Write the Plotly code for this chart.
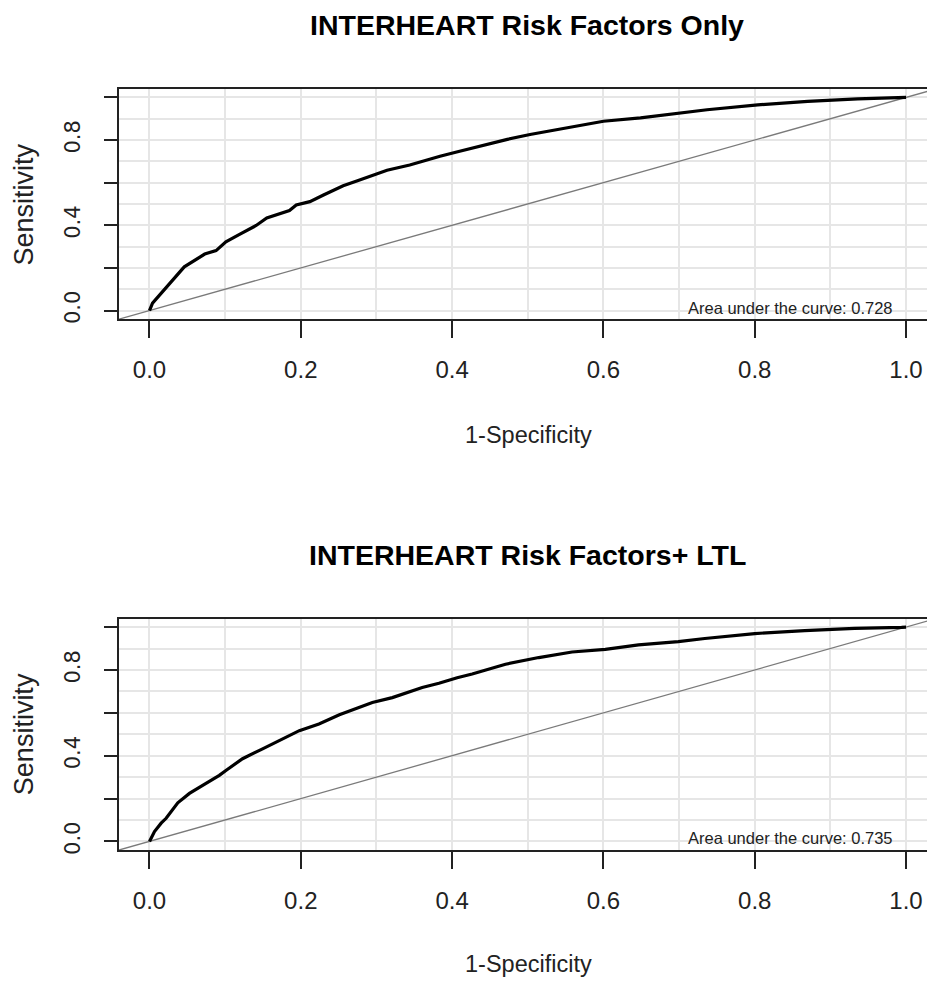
import plotly.graph_objects as go

# ---------------- data ----------------
titles = ["INTERHEART Risk Factors Only", "INTERHEART Risk Factors+ LTL"]
auc_values = [0.728, 0.735]

top_fpr = [0, 0.004, 0.046, 0.057, 0.073, 0.088, 0.101, 0.119, 0.141, 0.155, 0.185, 0.194,
           0.212, 0.230, 0.256, 0.274, 0.300, 0.314, 0.344, 0.367, 0.384, 0.406, 0.428,
           0.473, 0.503, 0.561, 0.600, 0.649, 0.702, 0.737, 0.804, 0.870, 0.936, 0.975, 1.0]
top_tpr = [0, 0.035, 0.205, 0.229, 0.265, 0.281, 0.322, 0.357, 0.399, 0.434, 0.469, 0.495,
           0.511, 0.542, 0.585, 0.608, 0.639, 0.658, 0.683, 0.708, 0.724, 0.744, 0.764,
           0.803, 0.826, 0.865, 0.888, 0.904, 0.927, 0.942, 0.965, 0.981, 0.993, 0.998, 1.0]

bot_fpr = [0, 0.0066, 0.0154, 0.022, 0.0374, 0.0528, 0.0703, 0.0923, 0.101, 0.123, 0.1495,
           0.1715, 0.198, 0.224, 0.251, 0.2946, 0.321, 0.3605, 0.3826, 0.4067, 0.4265, 0.4706,
           0.5145, 0.5585, 0.6025, 0.6464, 0.699, 0.734, 0.800, 0.866, 0.932, 0.994, 1.0]
bot_tpr = [0, 0.046, 0.085, 0.108, 0.180, 0.224, 0.262, 0.308, 0.331, 0.386, 0.432,
           0.470, 0.517, 0.548, 0.591, 0.648, 0.671, 0.718, 0.738, 0.764, 0.781, 0.827,
           0.858, 0.884, 0.896, 0.917, 0.932, 0.947, 0.970, 0.984, 0.994, 0.999, 1.0]

diag_line = [-0.1, 1.1]

x_tickvals = [0, 0.2, 0.4, 0.6, 0.8, 1.0]
x_ticktext = ["0.0", "0.2", "0.4", "0.6", "0.8", "1.0"]
y_tickvals = [0, 0.2, 0.4, 0.6, 0.8, 1.0]
y_ticktext = ["0.0", "", "0.4", "", "0.8", ""]

# ---------------- styling ----------------
W, H = 927, 988
REG = "Liberation Sans, Arial, sans-serif"
WIDE = "DejaVu Sans, Verdana, sans-serif"
GRID = "#e6e6e6"
AX = "#222222"

fig = go.Figure()

curves = [(top_fpr, top_tpr), (bot_fpr, bot_tpr)]
for i, (fx, ty) in enumerate(curves):
    xa = "x" if i == 0 else "x2"
    ya = "y" if i == 0 else "y2"
    fig.add_trace(go.Scatter(x=diag_line, y=diag_line, mode="lines",
                             line=dict(color="#7a7a7a", width=1.3),
                             xaxis=xa, yaxis=ya, showlegend=False, hoverinfo="skip"))
    fig.add_trace(go.Scatter(x=fx, y=ty, mode="lines",
                             line=dict(color="black", width=3.2),
                             xaxis=xa, yaxis=ya, showlegend=False))

x_dom = [119 / W, 1.0]
x_range = [-0.0403, 1.0277]
y_doms = [[1 - 320.7 / H, 1 - 89.3 / H], [1 - 854.3 / H, 1 - 621.7 / H]]
y_ranges = [[-0.04, 1.04], [-0.04, 1.04]]


def xaxis_cfg(anchor):
    return dict(domain=x_dom, range=x_range, anchor=anchor,
                tickmode="array", tickvals=x_tickvals, ticktext=x_ticktext,
                ticks="outside", ticklen=17, tickwidth=1.5, tickcolor=AX,
                ticklabelstandoff=11,
                tickfont=dict(family=REG, size=24, color=AX),
                showline=True, linecolor=AX, linewidth=1.5, mirror=True,
                showgrid=True, gridcolor=GRID, gridwidth=1.5,
                minor=dict(dtick=0.1, tick0=0, showgrid=True, gridcolor=GRID, gridwidth=1.5, ticks=""),
                zeroline=False, fixedrange=True)


def yaxis_cfg(anchor, dom, rng):
    return dict(domain=dom, range=rng, anchor=anchor,
                tickmode="array", tickvals=y_tickvals, ticktext=y_ticktext,
                ticks="outside", ticklen=13, tickwidth=1.5, tickcolor=AX,
                tickangle=-90, ticklabelstandoff=16,
                tickfont=dict(family=WIDE, size=21, color=AX),
                showline=True, linecolor=AX, linewidth=1.5, mirror=False,
                showgrid=True, gridcolor=GRID, gridwidth=1.5,
                minor=dict(dtick=0.1, tick0=0, showgrid=True, gridcolor=GRID, gridwidth=1.5, ticks=""),
                zeroline=False, fixedrange=True)


annotations = []
offsets = [0, 532.4]
for i in range(2):
    off = offsets[i]
    annotations.append(dict(text="<b>%s</b>" % titles[i], xref="paper", yref="paper",
                            x=527 / W, y=1 - (25 + off) / H, xanchor="center", yanchor="middle",
                            showarrow=False, font=dict(family=REG, size=28.5, color="black")))
    annotations.append(dict(text="1-Specificity", xref="paper", yref="paper",
                            x=528 / W, y=1 - (437 + off) / H, xanchor="center", yanchor="middle",
                            showarrow=False, font=dict(family=REG, size=23.5, color=AX)))
    annotations.append(dict(text="Sensitivity", xref="paper", yref="paper",
                            x=23.5 / W, y=1 - (206 + off) / H, xanchor="center", yanchor="middle",
                            textangle=-90, showarrow=False,
                            font=dict(family=REG, size=27, color=AX)))
    annotations.append(dict(text="Area under the curve: %.3f" % auc_values[i],
                            xref="x" if i == 0 else "x2", yref="y" if i == 0 else "y2",
                            x=0.985, y=0.014, xanchor="right", yanchor="middle",
                            showarrow=False, font=dict(family=REG, size=16.5, color=AX)))

fig.update_layout(
    width=W, height=H, margin=dict(l=0, r=0, t=0, b=0),
    paper_bgcolor="white", plot_bgcolor="white",
    xaxis=xaxis_cfg("y"), yaxis=yaxis_cfg("x", y_doms[0], y_ranges[0]),
    xaxis2=xaxis_cfg("y2"), yaxis2=yaxis_cfg("x2", y_doms[1], y_ranges[1]),
    annotations=annotations, showlegend=False,
)

fig.write_html("out.html", config={"displayModeBar": False})
